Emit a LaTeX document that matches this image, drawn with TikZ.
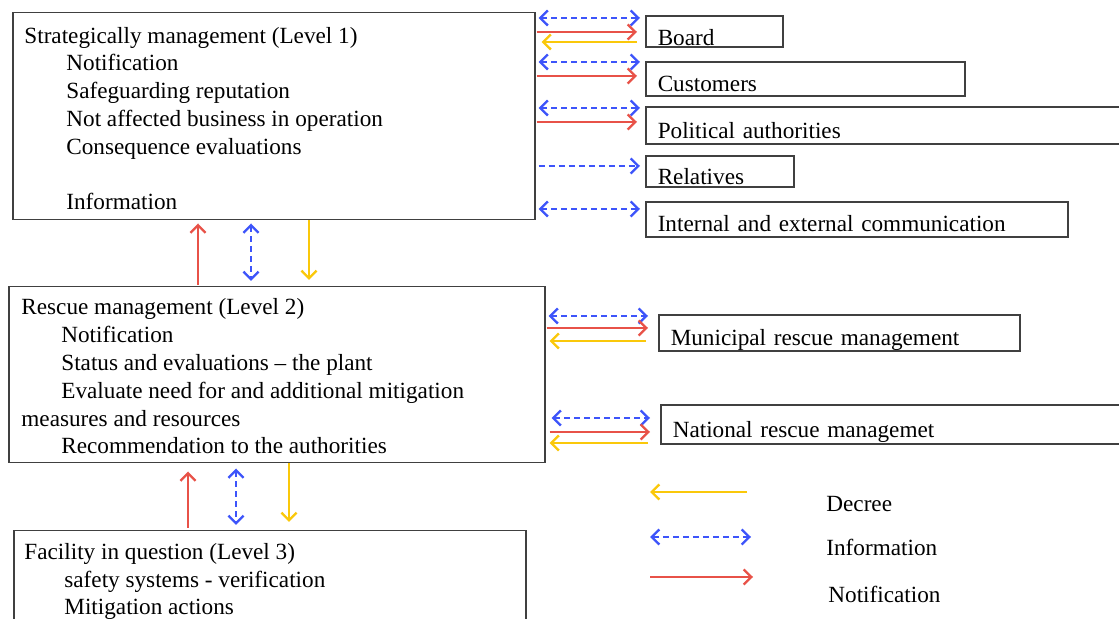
\documentclass[tikz,border=0pt]{standalone}
\usepackage{fontspec}
\setmainfont{Liberation Serif}
\usetikzlibrary{arrows.meta}
\definecolor{decreecol}{RGB}{250,200,10}
\definecolor{infocol}{RGB}{40,65,250}
\definecolor{notifcol}{RGB}{228,52,40}
\tikzset{
  mainbox/.style={draw=black!75, line width=0.75pt, anchor=north west, inner sep=0pt},
  boxtext/.style={anchor=base west, align=left, inner sep=0pt},
  sidebox/.style={draw=black!75, line width=0.75pt, anchor=south west, inner ysep=0pt, inner xsep=6pt, align=left},
  legtext/.style={anchor=base west, inner sep=0pt},
  decree/.style={->, draw=decreecol, line width=0.9pt, shorten <=0pt, shorten >=3pt},
  info/.style={<->, draw=infocol!90, line width=0.7pt, dash pattern=on 3pt off 2pt, shorten <=1.5pt, shorten >=2.5pt},
  notif/.style={->, draw=notifcol!85, line width=0.7pt, shorten <=0.5pt, shorten >=4pt},
  legend/.style={shorten <=0pt, shorten >=0pt}
}
\begin{document}
\begin{tikzpicture}[x=0.5pt, y=-0.5pt, font=\fontsize{11.6}{13.9}\selectfont,
  >={Straight Barb[length=3.8pt,width=7.5pt,line width=1.2pt]}]
\useasboundingbox (0,0) rectangle (1119,619);
\node[mainbox, minimum width=261pt, minimum height=103.5pt] (L1) at (12,12) {};
\node[mainbox, minimum width=268pt, minimum height=88pt] (L2) at (8,286) {};
\node[mainbox, minimum width=256pt, minimum height=60pt] (L3) at (13,530) {};
% base anchor sits on the last line
\node[boxtext] (L1text) at (24,210) {Strategically management (Level 1)\\
  \hspace*{21pt}Notification\\
  \hspace*{21pt}Safeguarding reputation\\
  \hspace*{21pt}Not affected business in operation\\
  \hspace*{21pt}Consequence evaluations\\[13.9pt]
  \hspace*{21pt}Information};
\node[boxtext] (L2text) at (21,454) {Rescue management (Level 2)\\
  \hspace*{20pt}Notification\\
  \hspace*{20pt}Status and evaluations -- the plant\\
  \hspace*{20pt}Evaluate need for and additional mitigation\\
  measures and resources\\
  \hspace*{20pt}Recommendation to the authorities};
\node[boxtext] (L3text) at (24,615) {Facility in question (Level 3)\\
  \hspace*{20pt}safety systems - verification\\
  \hspace*{20pt}Mitigation actions};

\node[sidebox, text width=56.5pt, text height=14.5pt, text depth=1pt] (Board) at (645,48) {Board};
\node[sidebox, text width=147.5pt, text height=14.5pt, text depth=2.5pt] (Cust) at (645,97) {Customers};
\node[sidebox, text width=228pt, text height=15.5pt, text depth=3pt] (Polit) at (645,145) {Political authorities};
\node[sidebox, text width=62pt, text height=14pt, text depth=1.5pt] (Relat) at (645,188) {Relatives};
\node[sidebox, text width=199pt, text height=14.5pt, text depth=3pt] (Comm) at (645,238) {Internal and external communication};
\node[sidebox, text width=168.5pt, text height=15pt, text depth=3pt] (Munic) at (658,352) {Municipal rescue management};
\node[sidebox, text width=223pt, text height=16pt, text depth=3.5pt] (Natio) at (660,445) {National rescue managemet};

\draw[info] (L1.east |- 0,18) -- (Board.west |- 0,18);
\draw[notif] (L1.east |- 0,32) -- (Board.west |- 0,32);
\draw[decree, shorten <=4pt] (Board.west |- 0,42) -- (L1.east |- 0,42);
\draw[info] (L1.east |- 0,62) -- (Cust.west |- 0,62);
\draw[notif] (L1.east |- 0,76) -- (Cust.west |- 0,76);
\draw[info] (L1.east |- 0,108) -- (Polit.west |- 0,108);
\draw[notif] (L1.east |- 0,122) -- (Polit.west |- 0,122);
\draw[info, -{>}] (L1.east |- 0,166) -- (Relat.west |- 0,166);
\draw[info] (L1.east |- 0,209) -- (Comm.west |- 0,209);

\draw[notif, shorten >=1.5pt] (L2.north -| 198,0) -- (L1.south -| 198,0);
\draw[info] (L1.south -| 251,0) -- (L2.north -| 251,0);
\draw[decree] (L1.south -| 309,0) -- (L2.north -| 309,0);

\draw[info, shorten >=5pt] (L2.east |- 0,316) -- (Munic.west |- 0,316);
\draw[notif, shorten >=5pt] (L2.east |- 0,328) -- (Munic.west |- 0,328);
\draw[decree, shorten <=6pt, shorten >=2pt] (Munic.west |- 0,341) -- (L2.east |- 0,341);
\draw[info, shorten >=5pt, shorten <=3pt] (L2.east |- 0,418) -- (Natio.west |- 0,418);
\draw[notif, shorten >=5pt, shorten <=2pt] (L2.east |- 0,432) -- (Natio.west |- 0,432);
\draw[decree, shorten <=6pt, shorten >=2pt] (Natio.west |- 0,443) -- (L2.east |- 0,443);

\draw[notif, shorten >=4pt, shorten <=1pt] (L3.north -| 188,0) -- (L2.south -| 188,0);
\draw[info, shorten <=2.5pt] (L2.south -| 236,0) -- (L3.north -| 236,0);
\draw[decree, shorten >=4pt] (L2.south -| 289,0) -- (L3.north -| 289,0);

\coordinate (decA) at (747,492);
\coordinate (decB) at (650,492);
\coordinate (infA) at (650,537);
\coordinate (infB) at (751,537);
\coordinate (notA) at (650,577);
\coordinate (notB) at (753,577);
\draw[decree, legend] (decA) -- (decB);
\draw[info, legend] (infA) -- (infB);
\draw[notif, legend] (notA) -- (notB);
\node[legtext] (decLbl) at (826,512) {Decree};
\node[legtext] (infLbl) at (826,556) {Information};
\node[legtext] (notLbl) at (828,603) {Notification};
\end{tikzpicture}
\end{document}
